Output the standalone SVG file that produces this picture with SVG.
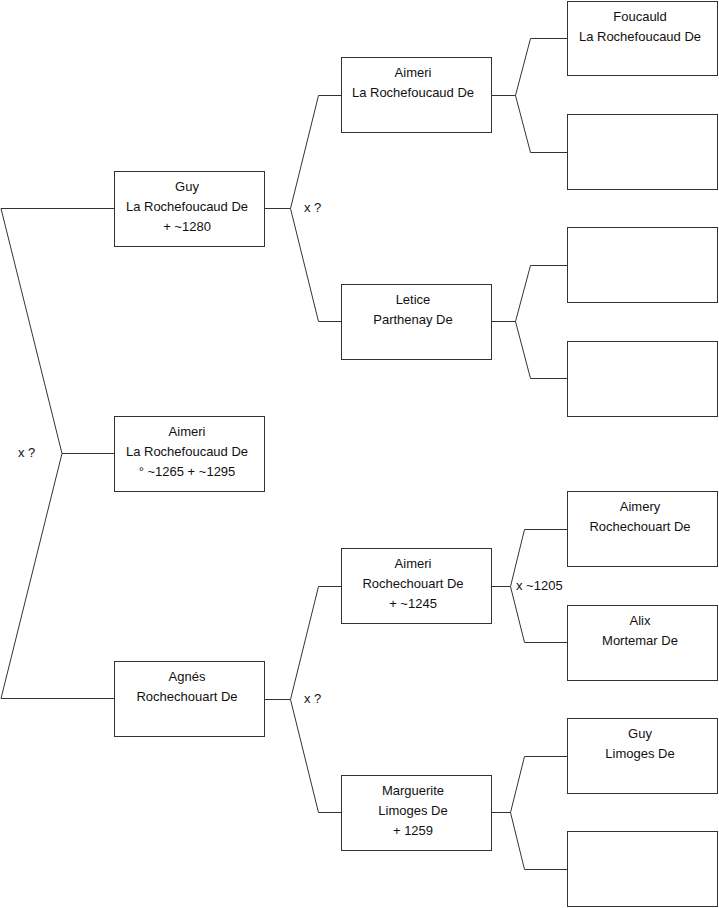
<svg xmlns="http://www.w3.org/2000/svg" width="719" height="908" viewBox="0 0 719 908">
<style>
.box{fill:#fff;stroke:#333;stroke-width:1}
.ln{fill:none;stroke:#333;stroke-width:1}
text{font-family:"Liberation Sans",Arial,sans-serif;font-size:13px;fill:#111}
.c{text-anchor:middle}
</style>
<rect x="0" y="0" width="719" height="908" fill="#fff"/>
<g id="connectors">
<path class="ln" d="M114.5,208.5 H1 L62,453.5 L1,698.5 H114.5 M62,453.5 H114.5"/>
<path class="ln" d="M264.5,208.5 H290.5 L318.5,95.5 H341.5 M290.5,208.5 L318.5,321.5 H341.5"/>
<path class="ln" d="M264.5,699.5 H290.5 L318.5,586.5 H341.5 M290.5,699.5 L318.5,812.5 H341.5"/>
<path class="ln" d="M491.5,95.5 H515.5 L530.5,38.5 H567.5 M515.5,95.5 L530.5,152.5 H567.5"/>
<path class="ln" d="M491.5,321.5 H515.5 L530.5,265.5 H567.5 M515.5,321.5 L530.5,378.5 H567.5"/>
<path class="ln" d="M491.5,586.5 H510.5 L524.5,529.5 H567.5 M510.5,586.5 L524.5,642.5 H567.5"/>
<path class="ln" d="M491.5,812.5 H510.5 L524.5,756.5 H567.5 M510.5,812.5 L524.5,869.5 H567.5"/>
<text x="18" y="457">x ?</text>
<text x="304" y="212">x ?</text>
<text x="304" y="703">x ?</text>
<text x="516" y="590">x ~1205</text>
</g>
<g id="n-guy"><rect class="box" x="114.5" y="171.5" width="150" height="75"/>
<text class="c" x="187" y="191">Guy</text><text class="c" x="187" y="211">La Rochefoucaud De</text><text class="c" x="187" y="231">+ ~1280</text></g>
<g id="n-aimeri1"><rect class="box" x="114.5" y="416.5" width="150" height="75"/>
<text class="c" x="187" y="436">Aimeri</text><text class="c" x="187" y="456">La Rochefoucaud De</text><text class="c" x="187" y="476">° ~1265 + ~1295</text></g>
<g id="n-agnes"><rect class="box" x="114.5" y="661.5" width="150" height="75"/>
<text class="c" x="187" y="681">Agnés</text><text class="c" x="187" y="701">Rochechouart De</text></g>
<g id="n-aimeri2"><rect class="box" x="341.5" y="57.5" width="150" height="75"/>
<text class="c" x="413" y="77">Aimeri</text><text class="c" x="413" y="97">La Rochefoucaud De</text></g>
<g id="n-letice"><rect class="box" x="341.5" y="284.5" width="150" height="75"/>
<text class="c" x="413" y="304">Letice</text><text class="c" x="413" y="324">Parthenay De</text></g>
<g id="n-aimeri3"><rect class="box" x="341.5" y="548.5" width="150" height="75"/>
<text class="c" x="413" y="568">Aimeri</text><text class="c" x="413" y="588">Rochechouart De</text><text class="c" x="413" y="608">+ ~1245</text></g>
<g id="n-marguerite"><rect class="box" x="341.5" y="775.5" width="150" height="75"/>
<text class="c" x="413" y="795">Marguerite</text><text class="c" x="413" y="815">Limoges De</text><text class="c" x="413" y="835">+ 1259</text></g>
<g id="n-foucauld"><rect class="box" x="567.5" y="1.5" width="150" height="74"/>
<text class="c" x="640" y="21">Foucauld</text><text class="c" x="640" y="41">La Rochefoucaud De</text></g>
<g id="n-empty1"><rect class="box" x="567.5" y="114.5" width="150" height="75"/></g>
<g id="n-empty2"><rect class="box" x="567.5" y="227.5" width="150" height="75"/></g>
<g id="n-empty3"><rect class="box" x="567.5" y="341.5" width="150" height="75"/></g>
<g id="n-aimery"><rect class="box" x="567.5" y="491.5" width="150" height="75"/>
<text class="c" x="640" y="511">Aimery</text><text class="c" x="640" y="531">Rochechouart De</text></g>
<g id="n-alix"><rect class="box" x="567.5" y="605.5" width="150" height="75"/>
<text class="c" x="640" y="625">Alix</text><text class="c" x="640" y="645">Mortemar De</text></g>
<g id="n-guy2"><rect class="box" x="567.5" y="718.5" width="150" height="75"/>
<text class="c" x="640" y="738">Guy</text><text class="c" x="640" y="758">Limoges De</text></g>
<g id="n-empty4"><rect class="box" x="567.5" y="831.5" width="150" height="75"/></g>
</svg>
